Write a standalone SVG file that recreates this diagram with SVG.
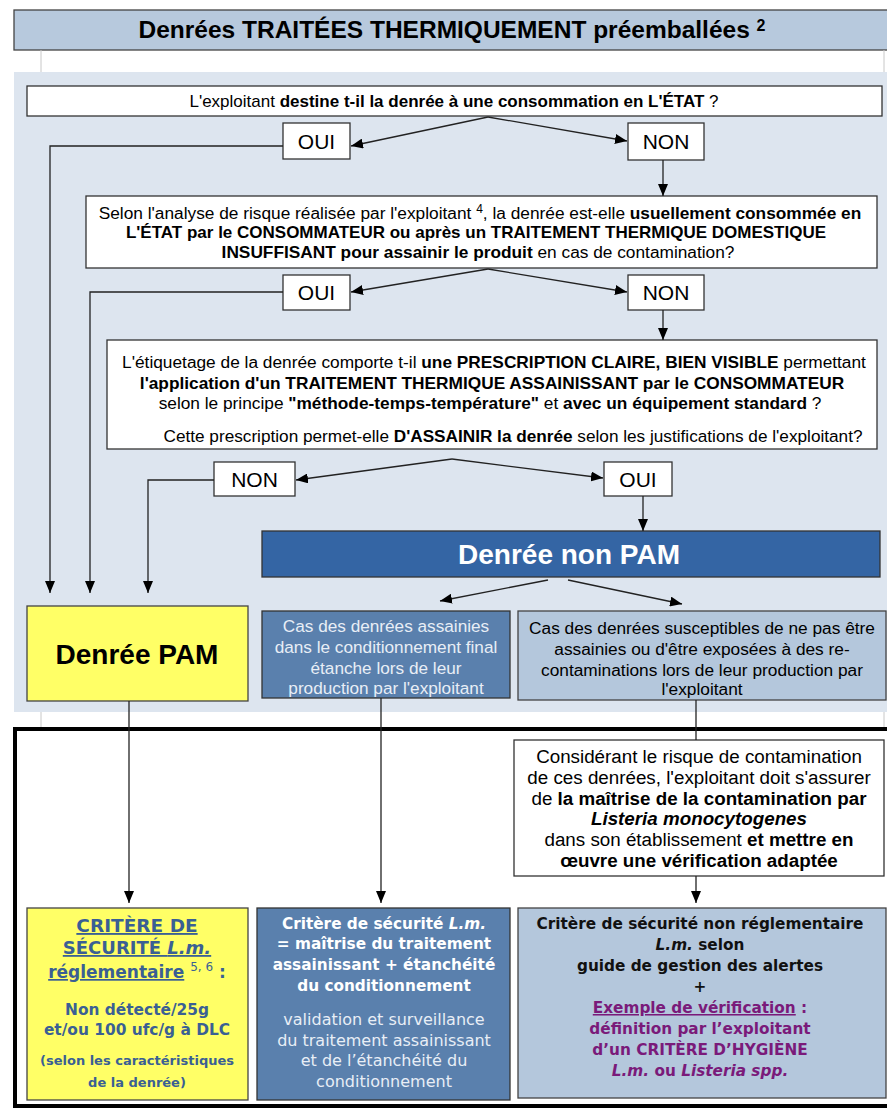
<svg xmlns="http://www.w3.org/2000/svg" width="887" height="1111" viewBox="0 0 887 1111">
<style>
.nar{font-family:"Liberation Sans",Arial,sans-serif;fill:#000}
.sans{font-family:"Liberation Sans",Arial,sans-serif}
.dv{font-family:"DejaVu Sans",Verdana,sans-serif;font-weight:bold}
.dvr{font-family:"DejaVu Sans",Verdana,sans-serif}
.box{fill:#fff;stroke:#333;stroke-width:1.3}
.b{font-weight:bold}
.conn path{fill:none;stroke:#222;stroke-width:1.3}
.grid{stroke:#c8c8c8;stroke-width:1}
</style>
<defs>
<marker id="ah" viewBox="0 0 12 10" refX="12" refY="5" markerWidth="12" markerHeight="10" markerUnits="userSpaceOnUse" orient="auto">
<path d="M0,0 L12,5 L0,10 z" fill="#000"/>
</marker>
</defs>
<rect x="0" y="0" width="887" height="1111" fill="#fff"/>
<g id="title">
<rect x="14" y="10" width="878" height="40" fill="#b7c9dd" stroke="#444" stroke-width="1.3"/>
<text x="452" y="38" text-anchor="middle" class="sans b" font-size="24.5" font-weight="bold">Denrées TRAITÉES THERMIQUEMENT préemballées <tspan font-size="16" dy="-7">2</tspan></text>
</g>
<line class="grid" x1="41" y1="50" x2="41" y2="72"/>
<line class="grid" x1="884" y1="50" x2="884" y2="72"/>
<rect x="14" y="72" width="873" height="640" fill="#dde5ef"/>
<line class="grid" x1="41" y1="712" x2="41" y2="729"/>
<line class="grid" x1="884" y1="712" x2="884" y2="729"/>
<rect x="15" y="729" width="880" height="377" fill="none" stroke="#000" stroke-width="4"/>

<g id="q1">
<rect class="box" x="27" y="86" width="855" height="30"/>
<text x="454" y="107" text-anchor="middle" class="nar" font-size="17">L'exploitant <tspan class="b">destine t-il la denrée à une consommation en L'ÉTAT</tspan> ?</text>
</g>
<g id="oui1"><rect class="box" x="283" y="123" width="67" height="36"/><text x="316.5" y="149" text-anchor="middle" class="nar" font-size="21">OUI</text></g>
<g id="non1"><rect class="box" x="628" y="123" width="76" height="37"/><text x="666" y="149" text-anchor="middle" class="nar" font-size="21">NON</text></g>

<g id="q2">
<rect class="box" x="86" y="196" width="791" height="72"/>
<text x="480" y="219" text-anchor="middle" class="nar" font-size="17.3">Selon l'analyse de risque réalisée par l'exploitant <tspan font-size="12" dy="-6">4</tspan><tspan dy="6">, la denrée est-elle </tspan><tspan class="b">usuellement consommée en</tspan></text>
<text x="476" y="238" text-anchor="middle" class="nar b" font-size="17">L'ÉTAT par le CONSOMMATEUR ou après un TRAITEMENT THERMIQUE DOMESTIQUE</text>
<text x="478" y="258" text-anchor="middle" class="nar" font-size="17.3"><tspan class="b">INSUFFISANT pour assainir le produit</tspan> en cas de contamination?</text>
</g>
<g id="oui2"><rect class="box" x="283" y="275" width="67" height="35"/><text x="316.5" y="300" text-anchor="middle" class="nar" font-size="21">OUI</text></g>
<g id="non2"><rect class="box" x="628" y="275" width="76" height="35"/><text x="666" y="300" text-anchor="middle" class="nar" font-size="21">NON</text></g>

<g id="q3">
<rect class="box" x="107" y="340" width="770" height="109"/>
<text x="494" y="368" text-anchor="middle" class="nar" font-size="17.3">L'étiquetage de la denrée comporte t-il <tspan class="b">une PRESCRIPTION CLAIRE, BIEN VISIBLE</tspan> permettant</text>
<text x="492" y="389" text-anchor="middle" class="nar b" font-size="17.3">l'application d'un TRAITEMENT THERMIQUE ASSAINISSANT par le CONSOMMATEUR</text>
<text x="490" y="409" text-anchor="middle" class="nar" font-size="17.3">selon le principe <tspan class="b">"méthode-temps-température"</tspan> et <tspan class="b">avec un équipement standard</tspan> ?</text>
<text x="513" y="442" text-anchor="middle" class="nar" font-size="17.2">Cette prescription permet-elle <tspan class="b">D'ASSAINIR la denrée</tspan> selon les justifications de l'exploitant?</text>
</g>
<g id="non3"><rect class="box" x="214" y="462" width="81" height="34"/><text x="254.5" y="487" text-anchor="middle" class="nar" font-size="21">NON</text></g>
<g id="oui3"><rect class="box" x="604" y="462" width="68" height="34"/><text x="638" y="487" text-anchor="middle" class="nar" font-size="21">OUI</text></g>

<g id="nonpam">
<rect x="262" y="531" width="618" height="46" fill="#3465a4" stroke="#333" stroke-width="1.3"/>
<text x="569" y="564" text-anchor="middle" class="nar b" font-size="28" style="fill:#fff">Denrée non PAM</text>
</g>
<g id="pam">
<rect x="27" y="606" width="221" height="95" fill="#ffff66" stroke="#444" stroke-width="1.3"/>
<text x="137" y="664" text-anchor="middle" class="nar b" font-size="28">Denrée PAM</text>
</g>
<g id="assainies">
<rect x="262" y="611" width="248" height="87" fill="#5a80ad" stroke="#333" stroke-width="1.3"/>
<g font-size="17.2" text-anchor="middle">
<text x="386" y="632" class="nar" style="fill:#e8eef6">Cas des denrées assainies</text>
<text x="386" y="653" class="nar" style="fill:#e8eef6">dans le conditionnement final</text>
<text x="386" y="674" class="nar" style="fill:#e8eef6">étanche lors de leur</text>
<text x="386" y="694" class="nar" style="fill:#e8eef6">production par l'exploitant</text>
</g>
</g>
<g id="susceptibles">
<rect x="518" y="611" width="368" height="89" fill="#b4c7dc" stroke="#444" stroke-width="1.3"/>
<g font-size="17.3" text-anchor="middle">
<text x="702" y="634" class="nar">Cas des denrées susceptibles de ne pas être</text>
<text x="702" y="655" class="nar">assainies ou d'être exposées à des re-</text>
<text x="702" y="676" class="nar">contaminations lors de leur production par</text>
<text x="702" y="695" class="nar">l'exploitant</text>
</g>
</g>
<g id="considerant">
<rect class="box" x="514" y="740" width="370" height="136"/>
<g font-size="18.8" text-anchor="middle">
<text x="699" y="763" class="nar">Considérant le risque de contamination</text>
<text x="699" y="784" class="nar">de ces denrées, l'exploitant doit s'assurer</text>
<text x="699" y="805" class="nar">de <tspan class="b">la maîtrise de la contamination par</tspan></text>
<text x="699" y="825" class="nar b" font-style="italic">Listeria monocytogenes</text>
<text x="699" y="846" class="nar">dans son établissement <tspan class="b">et mettre en</tspan></text>
<text x="699" y="867" class="nar b">œuvre une vérification adaptée</text>
</g>
</g>
<g id="critere-pam">
<rect x="27" y="908" width="221" height="192" fill="#ffff66" stroke="#444" stroke-width="1.3"/>
<g class="dv" text-anchor="middle" fill="#3a5f94">
<text x="137" y="932" font-size="18.5" text-decoration="underline">CRITÈRE DE</text>
<text x="137" y="954" font-size="18" text-decoration="underline">SÉCURITÉ <tspan font-style="italic">L.m.</tspan></text>
<text x="137" y="978" font-size="17"><tspan text-decoration="underline">réglementaire</tspan> <tspan font-size="12" dy="-7" font-weight="normal">5, 6</tspan><tspan dy="7"> :</tspan></text>
<text x="137" y="1015" font-size="15.4">Non détecté/25g</text>
<text x="137" y="1035" font-size="15.4">et/ou 100 ufc/g à DLC</text>
<text x="137" y="1065" font-size="13">(selon les caractéristiques</text>
<text x="137" y="1087" font-size="13">de la denrée)</text>
</g>
</g>
<g id="critere-assainies">
<rect x="257" y="908" width="253" height="192" fill="#5a80ad" stroke="#333" stroke-width="1.3"/>
<g text-anchor="middle" fill="#fff">
<text x="384" y="929" class="dv" font-size="15.3">Critère de sécurité <tspan font-style="italic">L.m.</tspan></text>
<text x="384" y="949" class="dv" font-size="15.3">= maîtrise du traitement</text>
<text x="384" y="970" class="dv" font-size="15.3">assainissant + étanchéité</text>
<text x="384" y="991" class="dv" font-size="15.3">du conditionnement</text>
<text x="384" y="1025" class="dvr" font-size="16" fill="#e8eef6">validation et surveillance</text>
<text x="384" y="1046" class="dvr" font-size="16" fill="#e8eef6">du traitement assainissant</text>
<text x="384" y="1066" class="dvr" font-size="16" fill="#e8eef6">et de l’étanchéité du</text>
<text x="384" y="1087" class="dvr" font-size="16" fill="#e8eef6">conditionnement</text>
</g>
</g>
<g id="critere-susceptibles">
<rect x="518" y="908" width="368" height="190" fill="#b4c7dc" stroke="#444" stroke-width="1.3"/>
<g class="dv" text-anchor="middle" font-size="15.3">
<text x="700" y="929" fill="#111">Critère de sécurité non réglementaire</text>
<text x="700" y="950" fill="#111"><tspan font-style="italic">L.m.</tspan> selon</text>
<text x="700" y="971" fill="#111">guide de gestion des alertes</text>
<text x="700" y="992" fill="#111">+</text>
<text x="700" y="1013" fill="#7a1a7a"><tspan text-decoration="underline">Exemple de vérification</tspan> :</text>
<text x="700" y="1034" fill="#7a1a7a">définition par l’exploitant</text>
<text x="700" y="1055" fill="#7a1a7a">d’un CRITÈRE D’HYGIÈNE</text>
<text x="700" y="1076" fill="#7a1a7a"><tspan font-style="italic">L.m.</tspan> ou <tspan font-style="italic">Listeria spp.</tspan></text>
</g>
</g>

<g id="connectors" class="conn">
<path d="M488,117 L351,146" marker-end="url(#ah)"/>
<path d="M488,117 L627,141" marker-end="url(#ah)"/>
<path d="M283,146 H50 V593" marker-end="url(#ah)"/>
<path d="M663,160 V196" marker-end="url(#ah)"/>
<path d="M488,269 L351,292" marker-end="url(#ah)"/>
<path d="M488,269 L627,292" marker-end="url(#ah)"/>
<path d="M283,292 H90 V593" marker-end="url(#ah)"/>
<path d="M663,310 V340" marker-end="url(#ah)"/>
<path d="M452,459 L296,480" marker-end="url(#ah)"/>
<path d="M452,459 L603,478" marker-end="url(#ah)"/>
<path d="M214,480 H148 V593" marker-end="url(#ah)"/>
<path d="M643,496 V531" marker-end="url(#ah)"/>
<path d="M548,580 L440,601" marker-end="url(#ah)"/>
<path d="M568,580 L682,604" marker-end="url(#ah)"/>
<path d="M129,701 V903" marker-end="url(#ah)"/>
<path d="M381,698 V903" marker-end="url(#ah)"/>
<path d="M696,700 V740"/>
<path d="M696,876 V903" marker-end="url(#ah)"/>
</g>
</svg>
